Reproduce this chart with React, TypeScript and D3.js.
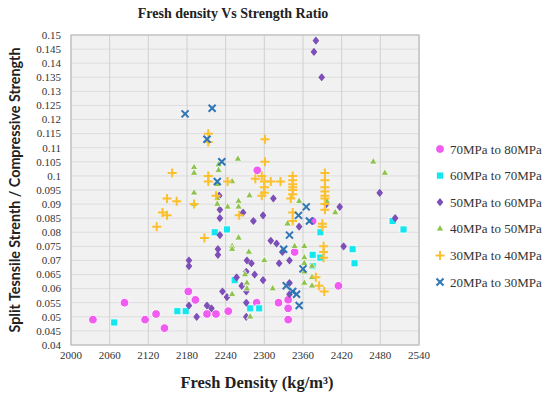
import * as d3 from "d3";

// density (kg/m3), split tensile / compressive ratio
const s70to80: [number, number][] = [
  [2034, 0.049], [2083, 0.055], [2115, 0.049], [2132, 0.051], [2145, 0.046],
  [2182, 0.059], [2193, 0.056], [2211, 0.051], [2225, 0.051], [2244, 0.052],
  [2288, 0.055], [2289, 0.102], [2322, 0.055], [2337, 0.056], [2337, 0.053],
  [2337, 0.049], [2347, 0.073], [2375, 0.084], [2415, 0.061],
];
const s60to70: [number, number][] = [
  [2067, 0.048], [2165, 0.052], [2178, 0.052], [2223, 0.08], [2242, 0.081],
  [2254, 0.063], [2278, 0.053], [2292, 0.053], [2375, 0.072], [2375, 0.068],
  [2387, 0.08], [2387, 0.071], [2437, 0.074], [2440, 0.069], [2499, 0.084],
  [2516, 0.081],
];
const s50to60: [number, number][] = [
  [2183, 0.07], [2183, 0.068], [2183, 0.054], [2195, 0.05], [2211, 0.054],
  [2218, 0.053], [2230, 0.093], [2231, 0.088], [2231, 0.085], [2231, 0.079],
  [2228, 0.074], [2228, 0.072], [2235, 0.059], [2242, 0.057], [2257, 0.064],
  [2265, 0.061], [2267, 0.087], [2272, 0.066], [2272, 0.059], [2272, 0.055],
  [2272, 0.05], [2273, 0.07], [2280, 0.069], [2283, 0.084], [2285, 0.065],
  [2298, 0.086], [2298, 0.063], [2310, 0.077], [2314, 0.092], [2319, 0.076],
  [2323, 0.069], [2328, 0.073], [2339, 0.07], [2339, 0.062], [2339, 0.058],
  [2354, 0.082], [2377, 0.144], [2380, 0.148], [2389, 0.135], [2396, 0.09],
  [2417, 0.089], [2423, 0.075], [2479, 0.094], [2503, 0.085],
];
const s40to50: [number, number][] = [
  [2191, 0.103], [2191, 0.101], [2191, 0.094], [2191, 0.09], [2229, 0.104],
  [2229, 0.102], [2259, 0.106], [2227, 0.097], [2250, 0.098], [2227, 0.092],
  [2227, 0.09], [2243, 0.089], [2260, 0.091], [2260, 0.089], [2277, 0.093],
  [2260, 0.078], [2250, 0.075], [2250, 0.074], [2276, 0.073], [2270, 0.065],
  [2273, 0.062], [2273, 0.06], [2250, 0.058], [2278, 0.05], [2300, 0.07],
  [2313, 0.06], [2336, 0.083], [2347, 0.075], [2354, 0.091], [2362, 0.075],
  [2362, 0.071], [2362, 0.069], [2362, 0.066], [2362, 0.062], [2374, 0.068],
  [2374, 0.064], [2374, 0.061], [2397, 0.091], [2410, 0.087], [2469, 0.105],
  [2487, 0.101],
];
const s30to40: [number, number][] = [
  [2133, 0.082], [2142, 0.087], [2149, 0.086], [2149, 0.092], [2157, 0.101],
  [2164, 0.091], [2191, 0.09], [2207, 0.078], [2213, 0.115], [2213, 0.112],
  [2213, 0.1], [2213, 0.098], [2225, 0.093], [2243, 0.098], [2261, 0.086],
  [2286, 0.099], [2296, 0.1], [2296, 0.093], [2300, 0.098], [2300, 0.096],
  [2300, 0.094], [2301, 0.113], [2301, 0.105], [2310, 0.098], [2325, 0.098],
  [2344, 0.1], [2344, 0.0985], [2344, 0.097], [2344, 0.096], [2344, 0.095],
  [2344, 0.0935], [2341, 0.092], [2344, 0.087], [2344, 0.084], [2380, 0.064],
  [2385, 0.061], [2390, 0.083], [2390, 0.082], [2392, 0.075], [2392, 0.073],
  [2392, 0.071], [2393, 0.059], [2394, 0.101], [2394, 0.0985], [2394, 0.096],
  [2394, 0.0945], [2394, 0.093], [2394, 0.092], [2394, 0.09], [2394, 0.088],
];
const s20to30: [number, number][] = [
  [2177, 0.122], [2211, 0.113], [2219, 0.124], [2227, 0.098], [2234, 0.105],
  [2330, 0.074], [2334, 0.061], [2339, 0.079], [2344, 0.059], [2350, 0.058],
  [2353, 0.086], [2354, 0.054], [2360, 0.067], [2365, 0.089], [2370, 0.084],
];

const seriesNames = [
  "70MPa to 80MPa", "60MPa to 70MPa", "50MPa to 60MPa",
  "40MPa to 50MPa", "30MPa to 40MPa", "20MPa to 30MPa",
];
const seriesData = [s70to80, s60to70, s50to60, s40to50, s30to40, s20to30];
const seriesColors = ["#f05cf0", "#14e6ef", "#7e4fb8", "#8fc250", "#fbc02d", "#2e75b6"];

const xTicks = d3.range(2000, 2541, 60);
const yTicks = d3.range(0.04, 0.1501, 0.005).map((v) => +v.toFixed(3));

const width = 550, height = 398;
const plot = { left: 71, right: 419, top: 35, bottom: 345 };

const serif = "'Liberation Serif', 'DejaVu Serif', serif";

function Marker({ kind, color }: { kind: number; color: string }) {
  if (kind === 0)
    return <path d={d3.symbol(d3.symbolCircle, 60)()!} fill={color} stroke="#fff" strokeWidth={1} />;
  if (kind === 1)
    return <path d={d3.symbol(d3.symbolSquare, 50)()!} fill={color} stroke="#fff" strokeWidth={0.8} />;
  if (kind === 2)
    return <path d="M0,-3.2L2.6,0L0,3.2L-2.6,0Z" fill={color} stroke={color} strokeWidth={1.2} strokeLinejoin="round" />;
  if (kind === 3)
    return <path d={d3.symbol(d3.symbolTriangle, 24)()!} fill={color} stroke="#fff" strokeWidth={0.7} />;
  if (kind === 4)
    return <path d="M-4.5,0H4.5M0,-4.5V4.5" stroke={color} strokeWidth={2} />;
  return <path d="M-3.5,-3.5L3.5,3.5M-3.5,3.5L3.5,-3.5" stroke={color} strokeWidth={2} />;
}

export default function App() {
  const x = d3.scaleLinear().domain([2000, 2540]).range([plot.left, plot.right]);
  const y = d3.scaleLinear().domain([0.04, 0.15]).range([plot.bottom, plot.top]);

  return (
    <svg width={width} height={height} style={{ position: "absolute", left: 0, top: 0, background: "#fff" }}>
      <text x={233} y={18} textAnchor="middle" fontFamily={serif} fontWeight="bold" fontSize={14} fill="#222">
        Fresh density Vs Strength Ratio
      </text>

      <rect x={plot.left} y={plot.top} width={plot.right - plot.left} height={plot.bottom - plot.top} fill="#f1f1f1" />
      {yTicks.map((t) => (
        <line key={"h" + t} x1={plot.left} x2={plot.right} y1={y(t)} y2={y(t)} stroke="#dddddd" strokeWidth={1} />
      ))}
      {xTicks.map((t) => (
        <line key={"v" + t} x1={x(t)} x2={x(t)} y1={plot.top} y2={plot.bottom} stroke="#d0d0d0" strokeWidth={1} />
      ))}
      <rect x={plot.left} y={plot.top} width={plot.right - plot.left} height={plot.bottom - plot.top} fill="none" stroke="#bdbdbd" strokeWidth={1.2} />

      {yTicks.map((t) => (
        <text key={"yl" + t} x={61} y={y(t)} dy="0.35em" textAnchor="end" fontFamily={serif} fontSize={11} fill="#333">
          {d3.format("")(t)}
        </text>
      ))}
      {xTicks.map((t) => (
        <text key={"xl" + t} x={x(t)} y={359} textAnchor="middle" fontFamily={serif} fontSize={11} fill="#333">
          {t}
        </text>
      ))}

      <text x={257} y={388} textAnchor="middle" fontFamily={serif} fontWeight="bold" fontSize={16.5} fill="#222">
        Fresh Density (kg/m³)
      </text>
      <text transform="translate(20,190) rotate(-90)" textAnchor="middle" fontFamily="Lato, 'Open Sans', sans-serif" fontWeight="bold" fontSize={14.3} fill="#222">
        Split Tesnsile Strenth / Compressive Strength
      </text>

      {seriesData.map((pts, si) => (
        <g key={"s" + si}>
          {pts.map(([d, v], i) => (
            <g key={i} transform={`translate(${x(d)},${y(v)})`}>
              <Marker kind={si} color={seriesColors[si]} />
            </g>
          ))}
        </g>
      ))}

      {seriesNames.map((name, i) => (
        <g key={name} transform={`translate(440,${149 + i * 26.6})`}>
          <Marker kind={i} color={seriesColors[i]} />
          <text x={10} dy="0.35em" fontFamily={serif} fontSize={13} fill="#333">
            {name}
          </text>
        </g>
      ))}
    </svg>
  );
}
